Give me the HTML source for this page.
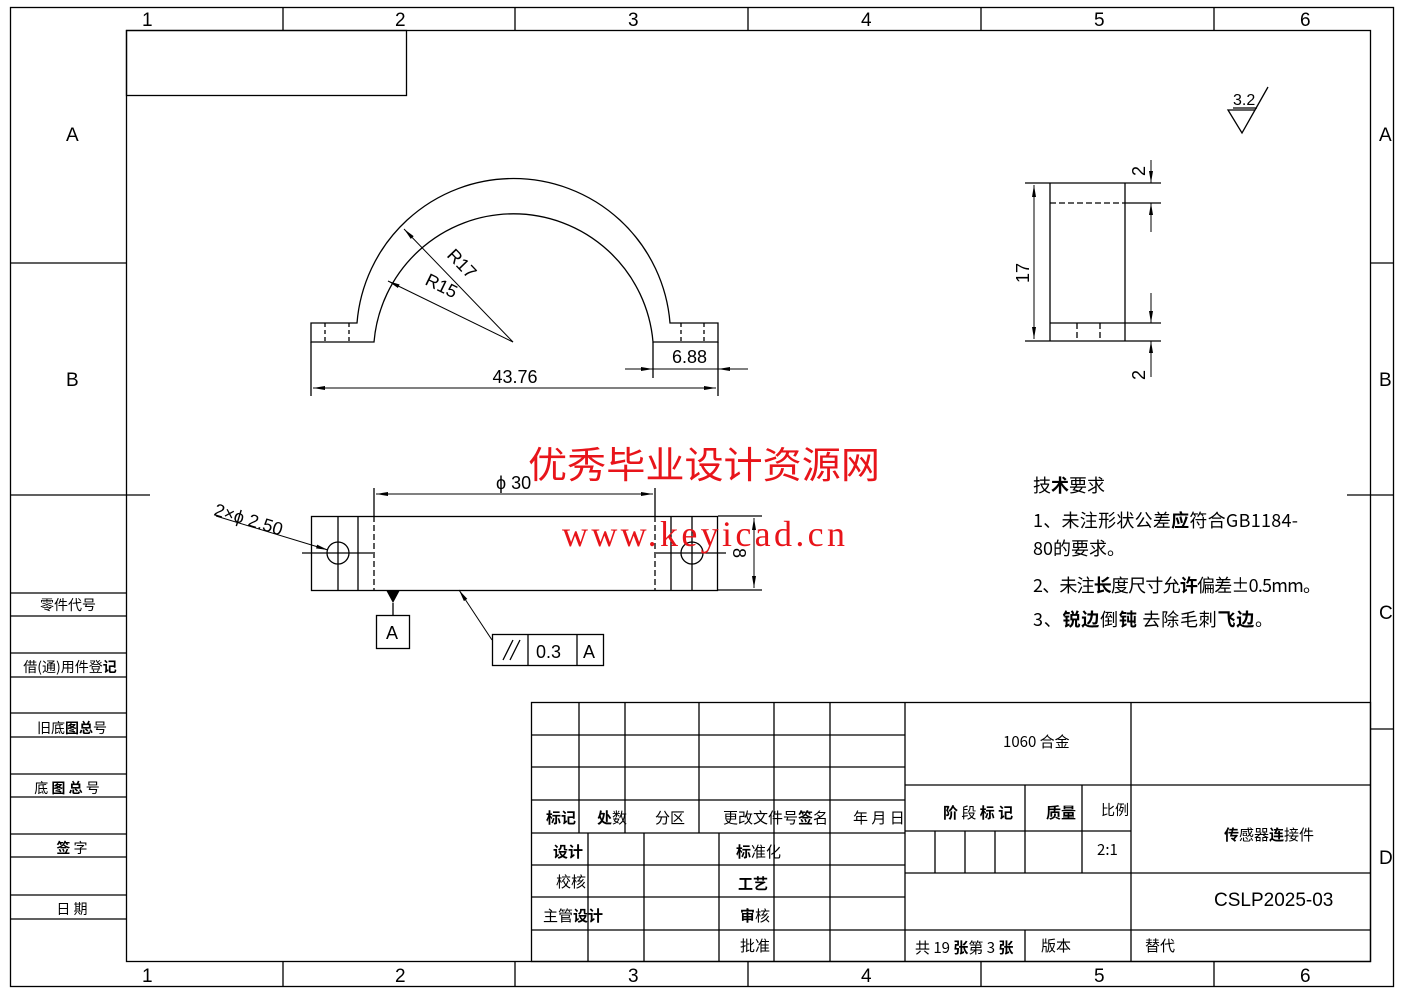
<!DOCTYPE html>
<html><head><meta charset="utf-8"><style>
html,body{margin:0;padding:0;background:#fff}
svg{display:block}
text{font-family:"Liberation Sans","Noto Sans CJK SC",sans-serif;fill:#000}
.c{font-family:"Noto Sans CJK SC","Liberation Sans",sans-serif}
</style></head><body>
<svg width="1403" height="992" viewBox="0 0 1403 992" xmlns="http://www.w3.org/2000/svg">
<defs>
<marker id="ar" markerWidth="12" markerHeight="6" refX="12" refY="3" orient="auto-start-reverse" markerUnits="userSpaceOnUse"><path d="M0,1 L12,3 L0,5 Z" fill="#000"/></marker>
</defs>
<g stroke="#000" stroke-width="1.3" fill="none">
<rect x="10.5" y="7.5" width="1383" height="979"/>
<rect x="126.5" y="30.5" width="1244" height="931"/>
<rect x="126.5" y="30.5" width="280" height="65"/>
<path d="M283 7V30M515 7V30M748 7V30M981 7V30M1214 7V30M283 962V987M515 962V987M748 962V987M981 962V987M1214 962V987"/>
<path d="M10 263H126M10 495H150M1370 263H1393M1347 495H1393M1370 729H1393"/>
<path d="M10 593H126M10 616H126M10 653H126M10 677H126M10 713H126M10 737H126M10 774H126M10 797H126M10 834H126M10 857H126M10 895H126M10 919H126"/>
<rect x="531.5" y="702.5" width="839" height="259"/>
<path d="M531 735H905M531 767H905M531 800H905M531 833H905M531 865H905M531 897H905M531 930H1370"/>
<path d="M579 702V833M625 702V833M699 702V833M774 702V833M830 702V833"/>
<path d="M588 833V962M644 833V962M719 833V962M774 833V962M830 833V962"/>
<path d="M905 702V962M1131 702V962"/>
<path d="M905 785H1370M905 831H1131M905 873H1370"/>
<path d="M935 831V873M965 831V873M995 831V873M1025 785V873M1082 785V873M1025 930V962"/>

<path d="M311 342V323H357A157 157 0 0 1 670 323H718V342H653A140 140 0 0 0 374 342Z"/>
<path d="M325 323V342M349 323V342M681 323V342M704 323V342" stroke-dasharray="4,3"/>
<path d="M311 342V396M718 342V396M653 342V378"/>
<path d="M313 388H716" marker-start="url(#ar)" marker-end="url(#ar)" stroke-width="1"/>
<path d="M625 369H653" marker-end="url(#ar)" stroke-width="1"/>
<path d="M748 369H718" marker-end="url(#ar)" stroke-width="1"/>
<path d="M653 369H718" stroke-width="1"/>
<path d="M513 342L404 229" marker-end="url(#ar)" stroke-width="1"/>
<path d="M513 342L388 281" marker-end="url(#ar)" stroke-width="1"/>

<rect x="311.5" y="516.5" width="406" height="74"/>
<path d="M358 516V590M671 516V590M338 516V590M692 516V590"/>
<path d="M374 516V590M655 516V590" stroke-dasharray="6,3"/>
<circle cx="338" cy="553" r="11"/>
<circle cx="692" cy="553" r="11"/>
<path d="M302 553H373M656 553H726"/>
<path d="M374 488V516M655 488V516"/>
<path d="M376 494H653" marker-start="url(#ar)" marker-end="url(#ar)" stroke-width="1"/>
<path d="M718 516H762M718 590H762"/>
<path d="M754 518V588" marker-start="url(#ar)" marker-end="url(#ar)" stroke-width="1"/>
<path d="M216 516L328 550" marker-end="url(#ar)" stroke-width="1"/>
<path d="M393 603V615"/>
<rect x="376.5" y="615.5" width="33" height="33"/>
<path d="M492 640L459 590" marker-end="url(#ar)" stroke-width="1"/>
<rect x="492.5" y="634.5" width="111" height="31"/>
<path d="M528 634V665M577 634V665M503 660L513 640M510 660L520 640"/>

<path d="M1050 183V341M1125 183V341M1025 183H1161M1025 341H1161M1050 323H1161M1125 203H1161"/>
<path d="M1050 203H1125M1077 323V341M1100 323V341" stroke-dasharray="6,3"/>
<path d="M1034 185V339" marker-start="url(#ar)" marker-end="url(#ar)" stroke-width="1"/>
<path d="M1151 160V183" marker-end="url(#ar)" stroke-width="1"/>
<path d="M1151 232V203" marker-end="url(#ar)" stroke-width="1"/>
<path d="M1151 293V323" marker-end="url(#ar)" stroke-width="1"/>
<path d="M1151 377V341" marker-end="url(#ar)" stroke-width="1"/>

<path d="M1228 110H1255L1242 133ZM1255 110L1268 87M1233 108H1257"/>
</g>
<path d="M386 590H400L393 603Z" fill="#000"/>

<g font-size="19">
<text x="142" y="26">1</text><text x="395" y="26">2</text><text x="628" y="26">3</text><text x="861" y="26">4</text><text x="1094" y="26">5</text><text x="1300" y="26">6</text>
<text x="142" y="982">1</text><text x="395" y="982">2</text><text x="628" y="982">3</text><text x="861" y="982">4</text><text x="1094" y="982">5</text><text x="1300" y="982">6</text>
<text x="66" y="141">A</text><text x="66" y="386">B</text>
<text x="1379" y="141">A</text><text x="1379" y="386">B</text><text x="1379" y="619">C</text><text x="1379" y="864">D</text>
</g>
<g font-size="18">
<text x="515" y="383" text-anchor="middle">43.76</text>
<text x="672" y="363">6.88</text>
<text x="446" y="256" transform="rotate(46 446 256)">R17</text>
<text x="424" y="284" transform="rotate(26 424 284)">R15</text>
<text x="496" y="489">ϕ 30</text>
<text x="733" y="548" transform="rotate(90 733 548)">8</text>
<text x="213" y="515" transform="rotate(17 213 515)">2×ϕ  2.50</text>
<text x="386" y="639">A</text>
<text x="536" y="658">0.3</text>
<text x="583" y="658">A</text>
<text x="1029" y="283" transform="rotate(-90 1029 283)">17</text>
<text x="1145" y="176" transform="rotate(-90 1145 176)">2</text>
<text x="1145" y="380" transform="rotate(-90 1145 380)">2</text>
<text x="1233" y="105" font-size="16">3.2</text>
</g>
<g class="c" font-size="18">
<text x="1033" y="492" class="c">技<tspan font-weight="bold">术</tspan>要求</text>
<text x="1033" y="527" class="c" textLength="265">1、未注形状公差<tspan font-weight="bold">应</tspan>符合GB1184-</text>
<text x="1033" y="555" class="c">80的要求。</text>
<text x="1033" y="592" class="c" textLength="288">2、未注<tspan font-weight="bold">长</tspan>度尺寸允<tspan font-weight="bold">许</tspan>偏差±0.5mm。</text>
<text x="1033" y="626" class="c" textLength="240">3、<tspan font-weight="bold">锐边</tspan>倒<tspan font-weight="bold">钝</tspan>  去除毛刺<tspan font-weight="bold">飞边</tspan>。</text>
</g>
<text x="528" y="478" font-size="37" textLength="352" lengthAdjust="spacingAndGlyphs" style="fill:#e8141a;font-family:'Noto Sans CJK SC',sans-serif">优秀毕业设计资源网</text>
<text x="562" y="546" font-size="36" textLength="283" lengthAdjust="spacing" style="fill:#e8141a;font-family:'Liberation Serif',serif">www.keyicad.cn</text>

<g class="c" font-size="14">
<text x="68" y="610" text-anchor="middle" class="c">零件代号</text>
<text x="70" y="672" text-anchor="middle" class="c">借(通)用件登<tspan font-weight="bold">记</tspan></text>
<text x="72" y="733" text-anchor="middle" class="c">旧底<tspan font-weight="bold">图总</tspan>号</text>
<text x="67" y="793" text-anchor="middle" class="c">底 <tspan font-weight="bold">图 总</tspan> 号</text>
<text x="72" y="853" text-anchor="middle" class="c"><tspan font-weight="bold">签</tspan>    字</text>
<text x="72" y="914" text-anchor="middle" class="c">日    期</text>
</g>
<g class="c" font-size="15">
<text x="546" y="823" class="c" font-weight="bold">标记</text>
<text x="597" y="823" class="c"><tspan font-weight="bold">处</tspan>数</text>
<text x="655" y="823" class="c">分区</text>
<text x="723" y="823" class="c">更改文件号<tspan font-weight="bold">签</tspan>名</text>
<text x="853" y="823" class="c">年 月 日</text>
<text x="553" y="857" class="c" font-weight="bold">设计</text>
<text x="556" y="887" class="c">校核</text>
<text x="543" y="921" class="c">主管<tspan font-weight="bold">设计</tspan></text>
<text x="736" y="857" class="c"><tspan font-weight="bold">标</tspan>准化</text>
<text x="738" y="889" class="c" font-weight="bold">工艺</text>
<text x="740" y="921" class="c"><tspan font-weight="bold">审</tspan>核</text>
<text x="740" y="951" class="c">批准</text>
<text x="1003" y="747" class="c">1060 合金</text>
<text x="943" y="818" class="c"><tspan font-weight="bold">阶</tspan> 段 <tspan font-weight="bold">标 记</tspan></text>
<text x="1046" y="818" class="c" font-weight="bold">质量</text>
<text x="1101" y="815" class="c" font-size="14">比例</text>
<text x="1097" y="855" class="c">2:1</text>
<text x="1224" y="840" class="c"><tspan font-weight="bold">传</tspan>感器<tspan font-weight="bold">连</tspan>接件</text>
<text x="1214" y="906" font-size="19">CSLP2025-03</text>
<text x="915" y="953" class="c">共 19 <tspan font-weight="bold">张</tspan>第 3 <tspan font-weight="bold">张</tspan></text>
<text x="1041" y="951" class="c">版本</text>
<text x="1145" y="951" class="c">替代</text>
</g>
</svg>
</body></html>
